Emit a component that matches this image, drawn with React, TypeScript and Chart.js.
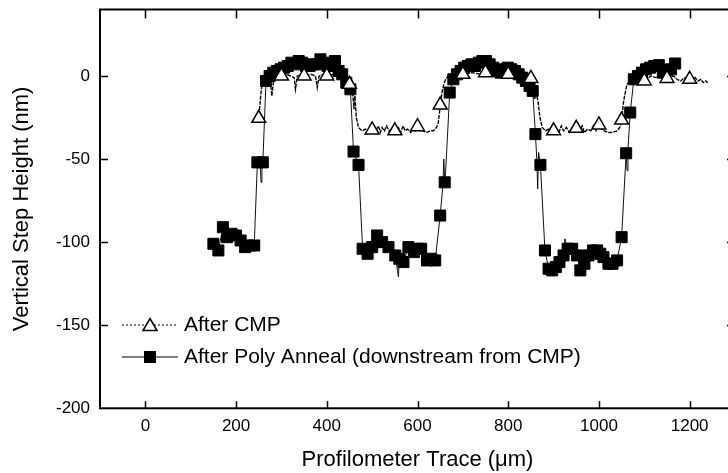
import React, { useEffect, useRef } from "react";
import { Chart, registerables } from "chart.js";

Chart.register(...registerables);

// ---- Data ----
const cmpMarkerX = [250, 300, 350, 400, 450, 500, 550, 600, 650, 700, 750, 800, 850, 900, 950, 1000, 1050, 1100, 1150, 1200];
const cmpMarkerY = [-25.5, 0, 0, 0, -5, -32.5, -33, -30.5, -17.5, 1, 2, 1, -1.5, -33, -31.5, -29.5, -26.5, -3, -1.5, -2];

const cmpTraceX = [245, 250, 255, 258, 262, 266, 270, 275, 279, 283, 290, 300, 310, 320, 328, 331, 335, 345, 355, 365, 375, 379, 383, 395, 405, 415, 425, 435, 445, 452, 457, 460, 462, 465, 470, 478, 485, 492, 500, 508, 514, 518, 522, 527, 532, 537, 545, 552, 558, 563, 568, 573, 578, 585, 590, 595, 600, 605, 612, 620, 628, 635, 642, 646, 650, 654, 658, 662, 668, 680, 700, 720, 740, 760, 780, 800, 820, 840, 850, 855, 858, 862, 866, 870, 875, 882, 890, 897, 905, 912, 917, 922, 928, 935, 940, 946, 952, 958, 963, 968, 975, 982, 988, 994, 1000, 1006, 1012, 1020, 1030, 1040, 1046, 1050, 1054, 1058, 1062, 1068, 1075, 1085, 1095, 1105, 1115, 1125, 1135, 1145, 1155, 1165, 1172, 1180, 1188, 1195, 1205, 1212, 1218, 1225, 1230, 1235, 1240];
const cmpTraceY = [-26, -25, -10, -4, -2, -3, -1, -2, -12, -2, -1, 0, 1, 0, -1, -8, 0, 1, 0, 1, 0, -7, 0, 1, 0, 1, 0, -1, -2, -5, -10, -20, -12, -25, -31, -33, -32, -33, -32, -33, -30, -34, -31, -33, -30, -33, -32, -33, -31, -34, -30, -33, -32, -34, -31, -33, -31, -33, -33, -34, -33, -33, -31, -28, -18, -10, -5, -2, 0, 1, 1, 2, 1, 2, 1, 1, 0, 0, -1, -5, -14, -10, -16, -25, -31, -33, -32, -33, -32, -34, -30, -33, -31, -34, -32, -33, -31, -33, -30, -34, -32, -33, -30, -33, -30, -32, -33, -34, -34, -33, -31, -27, -16, -10, -5, -3, -1, 0, -1, -2, 0, -1, 0, -2, -1, 0, -2, -3, -1, -2, -2, -1, -3, -2, -4, -3, -4];

const annealMarkerX = [150, 161, 171, 180, 190, 200, 210, 220, 230, 240, 247, 259, 266, 274, 282, 290, 298, 306, 314, 322, 330, 338, 346, 354, 362, 370, 378, 386, 394, 402, 410, 418, 426, 434, 443, 452, 459, 470, 479, 490, 500, 511, 522, 536, 551, 560, 569, 580, 592, 600, 608, 621, 630, 639, 650, 660, 671, 679, 687, 695, 703, 711, 719, 727, 735, 743, 751, 759, 767, 775, 783, 791, 799, 807, 815, 823, 831, 839, 847, 854, 860, 871, 881, 889, 897, 905, 913, 922, 931, 941, 952, 959, 968, 977, 987, 996, 1003, 1010, 1021, 1030, 1040, 1050, 1060, 1069, 1077, 1086, 1095, 1104, 1113, 1122, 1132, 1141, 1150, 1159, 1168];
const annealMarkerY = [-101, -105, -91, -97, -95, -96, -99, -103, -102, -102, -52, -52, -3, 0, 2, 3, 4, 5, 6, 8, 7, 9, 8, 6, 6, 7, 7, 10, 8, 6, 7, 9, 3, 1, -4, -8, -45.5, -53.5, -104, -107, -103, -96, -100, -103, -108, -110, -112, -103, -106, -104, -104, -111, -110, -111, -84, -64, -10, -2, 1, 3, 5, 6, 7, 6, 8, 9, 9, 7, 5, 3, 2, 4, 5, 4, 3, 1, -1, -3, -6, -9, -35, -53.5, -105, -116, -117, -115, -112, -108, -104, -104, -108, -117, -113, -108, -105, -105, -107, -109, -113, -113, -111, -97, -46.5, -22, -2, 0, 2, 4, 5, 6, 6.5, 2, 3.5, 4, 7.5];

// extra points of the anneal trace between the symbols (spikes)
const annealSpikeX = [253, 255, 257, 558, 656, 658, 662, 863, 865, 867, 925, 1062, 1064];
const annealSpikeY = [-50, -64, -52, -121, -66, -50, -58, -50, -68, -46, -98, -57, -44];

const xLabelValues = [0, 200, 400, 600, 800, 1000, 1200];
const yLabelValues = [-200, -150, -100, -50, 0];

const seriesNames = ["After CMP", "After Poly Anneal (downstream from CMP)"];

const FONT = '"Liberation Sans", Arial, Helvetica, sans-serif';

function pts(xs: number[], ys: number[]) {
  return xs.map((x, i) => ({ x, y: ys[i] }));
}

function annealTrace() {
  const all = pts(annealMarkerX, annealMarkerY).concat(pts(annealSpikeX, annealSpikeY));
  return all.sort((a, b) => a.x - b.x);
}

const framePlugin = {
  id: "frame",
  afterDraw(chart: any) {
    const ctx = chart.ctx;
    const { left, right, top, bottom } = chart.chartArea;
    const xs = chart.scales.x;
    const ys = chart.scales.y;
    ctx.save();
    ctx.strokeStyle = "#000";
    ctx.lineWidth = 2;
    ctx.strokeRect(left, top, right - left, bottom - top);
    ctx.lineWidth = 1.5;
    ctx.beginPath();
    xs.ticks.forEach((t: any) => {
      const v = t.value;
      if (v % 100 !== 0 || v <= xs.min || v >= xs.max) return;
      const len = v % 200 === 0 ? 7 : 4;
      const px = Math.round(xs.getPixelForValue(v)) + 0.5;
      ctx.moveTo(px, bottom);
      ctx.lineTo(px, bottom - len);
      ctx.moveTo(px, top);
      ctx.lineTo(px, top + len + 2);
    });
    ys.ticks.forEach((t: any) => {
      const v = t.value;
      if (v % 25 !== 0 || v <= ys.min || v >= ys.max) return;
      const len = v % 50 === 0 ? 8 : 5;
      const py = Math.round(ys.getPixelForValue(v)) + 0.5;
      ctx.moveTo(left, py);
      ctx.lineTo(left + len, py);
      ctx.moveTo(right, py);
      ctx.lineTo(right - len, py);
    });
    ctx.stroke();
    ctx.restore();
  },
};

const legendPlugin = {
  id: "customLegend",
  afterDraw(chart: any) {
    const ctx = chart.ctx;
    ctx.save();
    const x0 = 122, x1 = 178, cx = 150, tx = 184;
    const y1 = 325, y2 = 357;
    // row 1
    ctx.strokeStyle = "#000";
    ctx.lineWidth = 1.2;
    ctx.setLineDash([2, 2]);
    ctx.beginPath();
    ctx.moveTo(x0, y1);
    ctx.lineTo(x1, y1);
    ctx.stroke();
    ctx.setLineDash([]);
    ctx.beginPath();
    ctx.moveTo(cx, y1 - 6.5);
    ctx.lineTo(cx + 7, y1 + 5.5);
    ctx.lineTo(cx - 7, y1 + 5.5);
    ctx.closePath();
    ctx.fillStyle = "#fff";
    ctx.fill();
    ctx.lineWidth = 1.5;
    ctx.stroke();
    // row 2
    ctx.lineWidth = 1.2;
    ctx.beginPath();
    ctx.moveTo(x0, y2);
    ctx.lineTo(x1, y2);
    ctx.stroke();
    ctx.fillStyle = "#000";
    ctx.fillRect(cx - 6, y2 - 6, 12, 12);
    // text
    ctx.font = `21px ${FONT}`;
    ctx.textBaseline = "middle";
    ctx.textAlign = "left";
    ctx.fillText(seriesNames[0], tx, y1);
    ctx.fillText(seriesNames[1], tx, y2);
    ctx.restore();
  },
};

export default function App() {
  const ref = useRef<HTMLCanvasElement>(null);
  useEffect(() => {
    if (!ref.current) return;
    const chart = new Chart(ref.current, {
      type: "scatter",
      data: {
        datasets: [
          {
            label: seriesNames[0],
            data: pts(cmpMarkerX, cmpMarkerY),
            showLine: false,
            pointStyle: "triangle",
            pointRadius: 8,
            pointBackgroundColor: "#fff",
            pointBorderColor: "#000",
            pointBorderWidth: 1.5,
          },
          {
            label: "cmp-trace",
            data: pts(cmpTraceX, cmpTraceY),
            showLine: true,
            pointRadius: 0,
            borderColor: "#000",
            borderWidth: 1.4,
            borderDash: [4, 1.2],
          },
          {
            label: seriesNames[1],
            data: pts(annealMarkerX, annealMarkerY),
            showLine: false,
            pointStyle: "rect",
            pointRadius: 7.8,
            pointBackgroundColor: "#000",
            pointBorderColor: "#000",
            pointBorderWidth: 1,
          },
          {
            label: "anneal-trace",
            data: annealTrace(),
            showLine: true,
            pointRadius: 0,
            borderColor: "#111",
            borderWidth: 1,
          },
        ] as any,
      },
      options: {
        animation: false,
        responsive: false,
        events: [],
        layout: { padding: { top: 7.5, right: 15, left: 0, bottom: 0 } },
        plugins: { legend: { display: false }, tooltip: { enabled: false } },
        scales: {
          x: {
            type: "linear",
            min: -100,
            max: 1300,
            ticks: {
              stepSize: 100,
              autoSkip: false,
              maxRotation: 0,
              padding: 8,
              color: "#000",
              font: { family: FONT, size: 17 },
              callback: (v: any) => (xLabelValues.includes(Number(v)) ? String(v) : null),
            },
            grid: { display: false, drawTicks: false },
            border: { display: false },
            title: {
              display: true,
              text: "Profilometer Trace (μm)",
              color: "#000",
              font: { family: FONT, size: 22 },
              padding: { top: 0, bottom: 0 },
            },
            afterFit: (s: any) => {
              s.height = 64.7;
              s.paddingLeft = 0;
              s.paddingRight = 0;
            },
          },
          y: {
            type: "linear",
            min: -200,
            max: 40,
            ticks: {
              stepSize: 25,
              autoSkip: false,
              padding: 10,
              color: "#000",
              font: { family: FONT, size: 17 },
              callback: (v: any) => (yLabelValues.includes(Number(v)) ? String(v) : null),
            },
            grid: { display: false, drawTicks: false },
            border: { display: false },
            title: {
              display: true,
              text: "Vertical Step Height (nm)",
              color: "#000",
              font: { family: FONT, size: 22 },
              padding: { top: 9, bottom: 0 },
            },
            afterFit: (s: any) => {
              s.width = 100;
              s.paddingTop = 0;
              s.paddingBottom = 0;
            },
          },
        },
      } as any,
      plugins: [framePlugin, legendPlugin],
    });
    return () => chart.destroy();
  }, []);
  return (
    <div style={{ position: "fixed", left: 0, top: 0, width: 728, height: 473, overflow: "hidden", background: "#fff" }}>
      <canvas ref={ref} width={750} height={473} style={{ display: "block", width: 750, height: 473 }} />
    </div>
  );
}
